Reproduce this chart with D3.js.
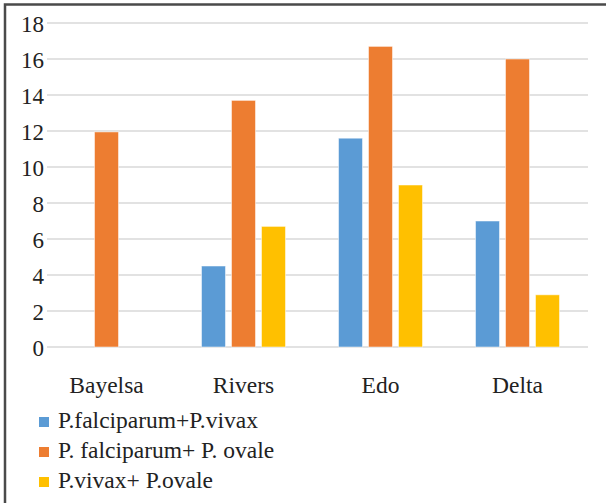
<!DOCTYPE html>
<html>
<head>
<meta charset="utf-8">
<script src="https://cdn.jsdelivr.net/npm/d3@7"></script>
<style>
  body { margin: 0; background: #fff; }
  svg text { font-family: "Liberation Serif", "DejaVu Serif", serif; fill: #222; }
</style>
</head>
<body>
<div id="chart"></div>
<script>
var svgWidth = 606;
var svgHeight = 503;

// chart data
var states = ["Bayelsa", "Rivers", "Edo", "Delta"];
var seriesNames = ["P.falciparum+P.vivax", "P. falciparum+ P. ovale", "P.vivax+ P.ovale"];
var falcVivax = [0, 4.5, 11.6, 7.0];
var falcOvale = [11.95, 13.7, 16.7, 16.0];
var vivaxOvale = [0, 6.7, 9.0, 2.9];
var yTicks = [0, 2, 4, 6, 8, 10, 12, 14, 16, 18];

var colors = ["#5B9BD5", "#ED7D31", "#FFC000"];
var seriesValues = [falcVivax, falcOvale, vivaxOvale];
var serif = "'Liberation Serif', 'DejaVu Serif', serif";

var svg = d3.select("#chart")
  .append("svg")
  .attr("width", svgWidth)
  .attr("height", svgHeight)
  .attr("font-family", serif);

// frame (only top and left edge visible)
svg.append("rect")
  .attr("x", 5)
  .attr("y", 4.5)
  .attr("width", 640)
  .attr("height", 540)
  .attr("fill", "none")
  .attr("stroke", "#4a4a4a")
  .attr("stroke-width", 2.5);

var xScale = d3.scaleBand()
  .domain(states)
  .range([38, 586]);

var xInner = d3.scaleBand()
  .domain(seriesNames)
  .range([-45, 45])
  .paddingInner(0.2)
  .paddingOuter(0.1);

var yScale = d3.scaleLinear()
  .domain([0, 18])
  .range([347, 23]);

// gridlines
svg.append("g")
  .selectAll("line")
  .data(yTicks)
  .enter()
  .append("line")
  .attr("x1", 47)
  .attr("x2", 588)
  .attr("y1", d => yScale(d))
  .attr("y2", d => yScale(d))
  .attr("stroke", "#d9d9d9")
  .attr("stroke-width", 1.5);

// y axis labels
var leftAxis = d3.axisLeft(yScale)
  .tickValues(yTicks)
  .tickSize(0)
  .tickPadding(0);

var yAxis = svg.append("g")
  .attr("transform", "translate(44,0)")
  .call(leftAxis)
  .attr("font-family", serif)
  .attr("font-size", "23px");
yAxis.select(".domain").remove();
yAxis.selectAll("text")
  .attr("fill", "#222")
  .attr("dy", "0.36em");

// bars
var barData = [];
states.forEach(function(s, i) {
  seriesNames.forEach(function(n, j) {
    barData.push({ state: s, series: n, value: seriesValues[j][i], color: colors[j] });
  });
});

svg.append("g")
  .selectAll("rect")
  .data(barData.filter(d => d.value > 0))
  .enter()
  .append("rect")
  .attr("x", d => xScale(d.state) + xScale.bandwidth() / 2 + xInner(d.series))
  .attr("width", xInner.bandwidth())
  .attr("y", d => yScale(d.value))
  .attr("height", d => yScale(0) - yScale(d.value))
  .attr("fill", d => d.color)
  .attr("stroke", "#ffffff")
  .attr("stroke-opacity", 0.5)
  .attr("stroke-width", 1);

// x axis labels
var bottomAxis = d3.axisBottom(xScale)
  .tickSize(0)
  .tickPadding(0);

var xAxis = svg.append("g")
  .attr("transform", "translate(0,393)")
  .call(bottomAxis)
  .attr("font-family", serif)
  .attr("font-size", "23.5px");
xAxis.select(".domain").remove();
xAxis.selectAll("text")
  .attr("fill", "#222")
  .attr("y", 0)
  .attr("dy", 0);

// legend
var legend = svg.append("g")
  .selectAll("g")
  .data(seriesNames)
  .enter()
  .append("g")
  .attr("transform", (d, i) => `translate(39, ${428 + i * 30})`);

legend.append("rect")
  .attr("x", 0)
  .attr("y", -11)
  .attr("width", 10)
  .attr("height", 10)
  .attr("fill", (d, i) => colors[i]);

legend.append("text")
  .attr("x", 19)
  .attr("y", 0)
  .attr("font-size", "23.5px")
  .text(d => d);
</script>
</body>
</html>
